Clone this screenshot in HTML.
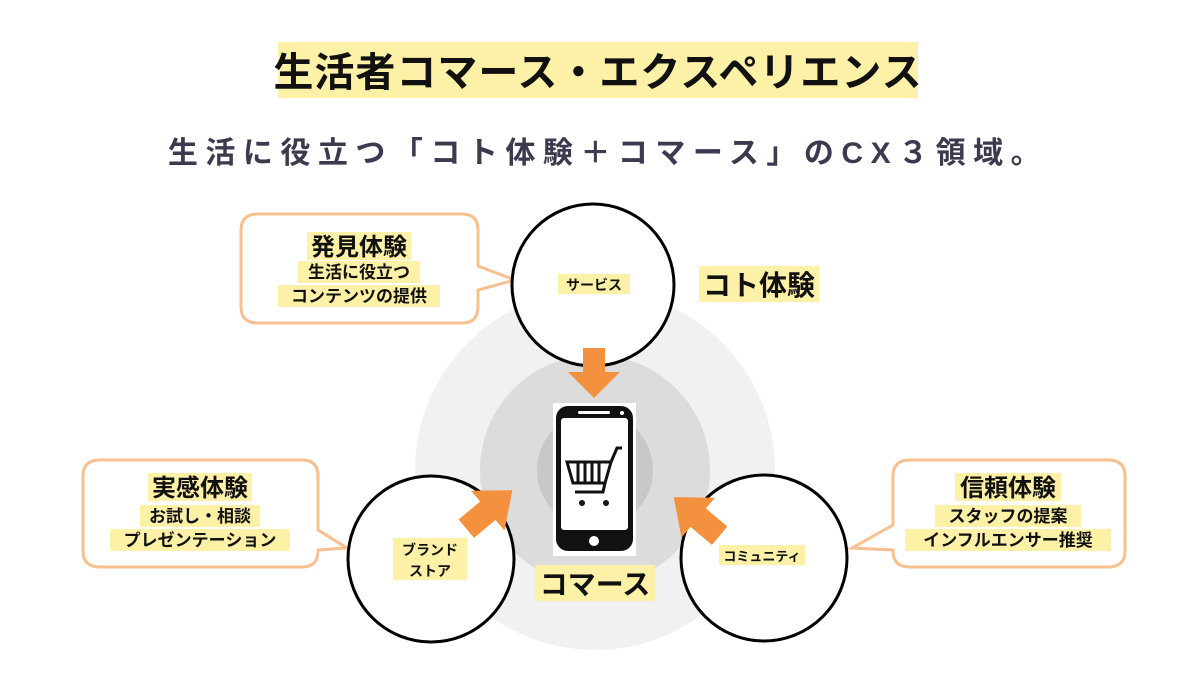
<!DOCTYPE html>
<html><head><meta charset="utf-8"><style>
html,body{margin:0;padding:0;background:#fff;}
svg{display:block}
text{font-family:"Liberation Sans","Noto Sans CJK JP",sans-serif;font-weight:bold;}
</style></head><body>
<svg width="1200" height="678" viewBox="0 0 1200 678">
<rect x="278" y="42" width="640" height="56" fill="#fdf1a8"/>
<text x="598" y="86" font-size="40" text-anchor="middle" fill="#111" letter-spacing="1">生活者コマース・エクスペリエンス</text>
<text x="608" y="163" font-size="30" text-anchor="middle" fill="#3d3a4f" letter-spacing="7.5">生活に役立つ「コト体験＋コマース」のCX３領域。</text>
<circle cx="595" cy="470" r="180" fill="#f1f1f1"/>
<circle cx="595" cy="470" r="115" fill="#dcdcdc"/>
<circle cx="595" cy="470" r="58" fill="#c8c8c8"/>
<path d="M258 214 H462 Q478 214 478 230 V266 L515 280 L478 290 V307 Q478 323 462 323 H258 Q241 323 241 307 V230 Q241 214 258 214Z" fill="#fff" stroke="#f6c08f" stroke-width="3"/>
<path d="M100 460 H302 Q318 460 318 476 V530 L347 548 L318 550 V551 Q318 567 302 567 H100 Q83 567 83 551 V476 Q83 460 100 460Z" fill="#fff" stroke="#f6c08f" stroke-width="3"/>
<path d="M910 460 H1108 Q1125 460 1125 476 V551 Q1125 567 1108 567 H910 Q893 567 893 551 V550 L852 548 L893 525 V476 Q893 460 910 460Z" fill="#fff" stroke="#f6c08f" stroke-width="3"/>
<circle cx="593" cy="285" r="81" fill="#fff" stroke="#000" stroke-width="3"/>
<circle cx="431" cy="559" r="83" fill="#fff" stroke="#000" stroke-width="3"/>
<circle cx="764" cy="558" r="83" fill="#fff" stroke="#000" stroke-width="3"/>
<polygon points="583,348 605,348 605,372 620,372 594,398 568,372 583,372" fill="#f4913e"/>
<g transform="translate(497,503) rotate(-40)"><polygon points="-40,-12 -12,-12 -12,-26 20,0 -12,26 -12,12 -40,12" fill="#f4913e"/></g>
<g transform="translate(689,510) rotate(-140)"><polygon points="-40,-12 -12,-12 -12,-26 20,0 -12,26 -12,12 -40,12" fill="#f4913e"/></g>
<rect x="553" y="403" width="83" height="153" fill="#fff"/>
<rect x="556" y="406" width="77" height="145" rx="12" fill="#111"/>
<rect x="561" y="418" width="67" height="112" rx="3" fill="#fff"/>
<rect x="578" y="411" width="32" height="3" rx="1.5" fill="#fff"/>
<circle cx="622" cy="413" r="2" fill="#fff"/>
<circle cx="594" cy="541" r="5" fill="#fff"/>
<g fill="none" stroke="#111" stroke-width="3">
<path d="M567 462 H611 L605 483 H573 Z"/>
<path d="M611 462 L617 448 H622"/>
<path d="M605 483 L603 492 H575"/>
<path d="M578 463 V482 M585 463 V482 M592 463 V482 M599 463 V482"/>
</g>
<circle cx="582" cy="503" r="3" fill="#111"/><circle cx="606" cy="503" r="3" fill="#111"/>
<rect x="699" y="266" width="120" height="36" fill="#fdf1a8"/>
<text x="759" y="295" font-size="28" text-anchor="middle" fill="#111">コト体験</text>
<rect x="535" y="565" width="120" height="36" fill="#fdf1a8"/>
<text x="595" y="594" font-size="28" text-anchor="middle" fill="#111">コマース</text>
<rect x="558" y="274" width="72" height="20" fill="#fdf1a8"/>
<text x="594" y="290" font-size="14" text-anchor="middle" fill="#111">サービス</text>
<rect x="393" y="538" width="74" height="42" fill="#fdf1a8"/>
<text x="430" y="555" font-size="14" text-anchor="middle" fill="#111">ブランド</text>
<text x="430" y="576" font-size="14" text-anchor="middle" fill="#111">ストア</text>
<rect x="719" y="545" width="86" height="20" fill="#fdf1a8"/>
<text x="762" y="561" font-size="13" text-anchor="middle" fill="#111">コミュニティ</text>
<rect x="307" y="232" width="104" height="28" fill="#fdf1a8"/>
<text x="359" y="255" font-size="24" text-anchor="middle" fill="#111">発見体験</text>
<rect x="298" y="261" width="122" height="22" fill="#fdf1a8"/>
<text x="359" y="278" font-size="17" text-anchor="middle" fill="#111">生活に役立つ</text>
<rect x="278" y="285" width="162" height="22" fill="#fdf1a8"/>
<text x="359" y="302" font-size="17" text-anchor="middle" fill="#111">コンテンツの提供</text>
<rect x="148" y="473" width="104" height="28" fill="#fdf1a8"/>
<text x="200" y="496" font-size="24" text-anchor="middle" fill="#111">実感体験</text>
<rect x="140" y="505" width="120" height="22" fill="#fdf1a8"/>
<text x="200" y="522" font-size="17" text-anchor="middle" fill="#111">お試し・相談</text>
<rect x="110" y="529" width="180" height="22" fill="#fdf1a8"/>
<text x="200" y="546" font-size="17" text-anchor="middle" fill="#111">プレゼンテーション</text>
<rect x="955" y="473" width="106" height="28" fill="#fdf1a8"/>
<text x="1008" y="496" font-size="24" text-anchor="middle" fill="#111">信頼体験</text>
<rect x="935" y="505" width="146" height="22" fill="#fdf1a8"/>
<text x="1008" y="522" font-size="17" text-anchor="middle" fill="#111">スタッフの提案</text>
<rect x="905" y="529" width="206" height="22" fill="#fdf1a8"/>
<text x="1008" y="546" font-size="17" text-anchor="middle" fill="#111">インフルエンサー推奨</text>
</svg>
</body></html>
